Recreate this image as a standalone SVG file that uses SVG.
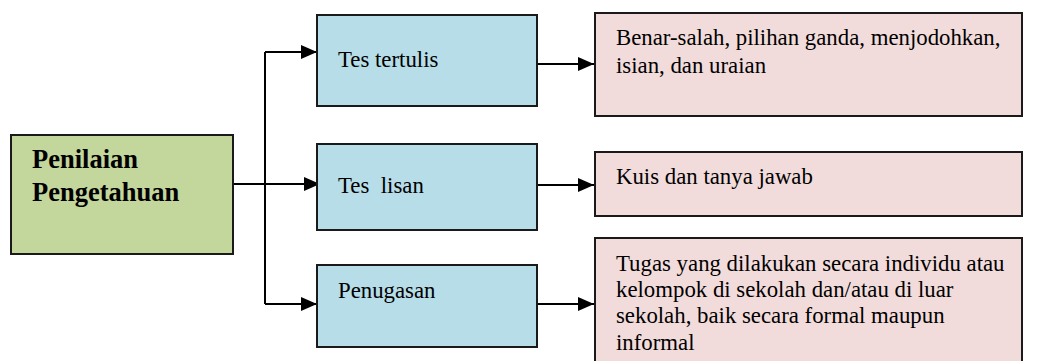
<svg xmlns="http://www.w3.org/2000/svg" width="1048" height="361" viewBox="0 0 1048 361">
<defs>
<marker id="arr" viewBox="0 0 16 14" refX="16" refY="7" markerWidth="16" markerHeight="14" markerUnits="userSpaceOnUse" orient="auto">
<path d="M0,0 L16,7 L0,14 Z" fill="#000"/>
</marker>
<style>
.box{stroke:#1a1a1a;stroke-width:2}
.g{fill:#C3D69B}
.b{fill:#B7DDE8}
.p{fill:#F2DCDB}
.t{font-size:22.8px}
.tb{font-size:26.5px;font-weight:bold}
.c{fill:none;stroke:#000;stroke-width:2}
</style>
</defs>
<rect width="1048" height="361" fill="#fff"/>
<g id="connectors">
<path class="c" d="M265,52 L265,304"/>
<path class="c" d="M265,52 L317,52" marker-end="url(#arr)"/>
<path class="c" d="M233,184 L320,184" marker-end="url(#arr)"/>
<path class="c" d="M265,304 L317,304" marker-end="url(#arr)"/>
<path class="c" d="M537,64 L594,64" marker-end="url(#arr)"/>
<path class="c" d="M537,185 L594,185" marker-end="url(#arr)"/>
<path class="c" d="M537,304 L594,304" marker-end="url(#arr)"/>
</g>
<g font-family="Liberation Serif, DejaVu Serif, serif" fill="#000">
<g id="node-penilaian">
<rect class="box g" x="11" y="135" width="222" height="119"/>
<text class="tb" x="32" y="168">Penilaian</text>
<text class="tb" x="32" y="201">Pengetahuan</text>
</g>
<g id="node-tes-tertulis">
<rect class="box b" x="317" y="15" width="220" height="91"/>
<text class="t" x="338" y="67">Tes tertulis</text>
</g>
<g id="node-tes-lisan">
<rect class="box b" x="317" y="144" width="220" height="86"/>
<text class="t" x="338" y="193" xml:space="preserve">Tes  lisan</text>
</g>
<g id="node-penugasan">
<rect class="box b" x="317" y="265" width="220" height="82"/>
<text class="t" x="338" y="298">Penugasan</text>
</g>
<g id="node-tertulis-detail">
<rect class="box p" x="595" y="13" width="427" height="103"/>
<text class="t" x="616" y="45">Benar-salah, pilihan ganda, menjodohkan,</text>
<text class="t" x="616" y="73">isian, dan uraian</text>
</g>
<g id="node-lisan-detail">
<rect class="box p" x="595" y="152" width="427" height="64"/>
<text class="t" x="616" y="184">Kuis dan tanya jawab</text>
</g>
<g id="node-penugasan-detail">
<rect class="box p" x="595" y="238" width="427" height="135"/>
<text class="t" x="616" y="271">Tugas yang dilakukan secara individu atau</text>
<text class="t" x="616" y="297">kelompok di sekolah dan/atau di luar</text>
<text class="t" x="616" y="323">sekolah, baik secara formal maupun</text>
<text class="t" x="616" y="350">informal</text>
</g>
</g>
</svg>
